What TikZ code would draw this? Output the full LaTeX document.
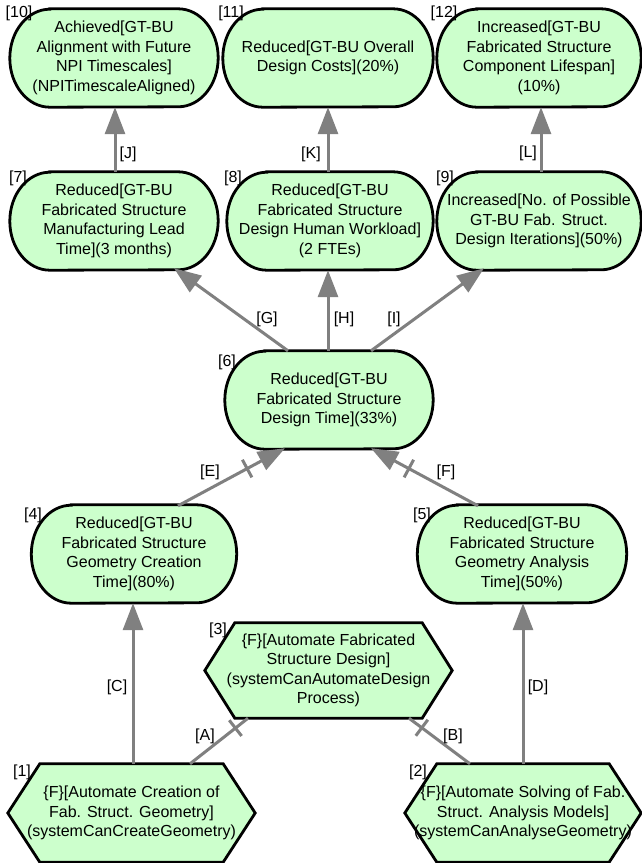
\documentclass[tikz,border=0pt]{standalone}
\usepackage{fontspec}
\setmainfont{Liberation Sans}
\usetikzlibrary{arrows.meta,calc,backgrounds}
\definecolor{nodefill}{RGB}{204,255,204}
\definecolor{edgegray}{RGB}{128,128,128}
\begin{document}
\begin{tikzpicture}[x=1pt,y=-1pt,
  txt/.style={font=\fontsize{16}{19.5}\selectfont},
  goal/.style={txt, minimum width=208pt, minimum height=98pt, inner sep=0pt, align=center},
  hextext/.style={txt, inner sep=0pt, align=center, minimum width=247pt, minimum height=98pt},
  border/.style={draw=black, line width=2.8pt, fill=nodefill, line join=miter},
  idx/.style={txt, inner sep=0pt},
  edge/.style={draw=edgegray, line width=3pt},
  arr/.style={edge, -{Triangle[length=27pt,width=20pt]}}]
\useasboundingbox (0,0) rectangle (642,863);

% goal nodes
\node[goal] (n10) at (114,58) {Achieved[GT-BU\\Alignment with Future\\NPI Timescales]\\(NPITimescaleAligned)};
\node[goal, minimum width=210pt] (n11) at (328,58) {Reduced[GT-BU Overall\\Design Costs](20\%)};
\node[goal, minimum width=204pt] (n12) at (539,58) {Increased[GT-BU\\Fabricated Structure\\Component Lifespan]\\(10\%)};
\node[goal] (n7) at (114,221) {Reduced[GT-BU\\Fabricated Structure\\Manufacturing Lead\\Time](3 months)};
\node[goal, minimum width=206pt] (n8) at (330,221) {Reduced[GT-BU\\Fabricated Structure\\Design Human Workload]\\(2 FTEs)};
\node[goal, minimum width=204pt] (n9) at (539,221) {Increased[No. of Possible\\GT-BU Fab. Struct.\\Design Iterations](50\%)};
\node[goal] (n6) at (329,400) {Reduced[GT-BU\\Fabricated Structure\\Design Time](33\%)};
\node[goal, minimum width=205pt] (n4) at (134,554) {Reduced[GT-BU\\Fabricated Structure\\Geometry Creation\\Time](80\%)};
\node[goal, minimum width=209pt] (n5) at (522,554) {Reduced[GT-BU\\Fabricated Structure\\Geometry Analysis\\Time](50\%)};

% function (hexagon) nodes
\node[hextext, minimum height=95pt] (n3) at (328.5,670.5) {\{F\}[Automate Fabricated\\Structure Design]\\(systemCanAutomateDesign\\Process)};
\node[hextext] (n1) at (131.5,813) {\{F\}[Automate Creation of\\Fab. Struct. Geometry]\\(systemCanCreateGeometry)};
\node[hextext, minimum width=236pt] (n2) at (523,813) {\{F\}[Automate Solving of Fab.\\Struct. Analysis Models]\\(systemCanAnalyseGeometry)};

\begin{scope}[on background layer]
\fill[white] (0,0) rectangle (642,863);
\foreach \g in {n10,n11,n12,n7,n8,n9,n6,n4,n5}{
  \draw[border] ($(\g.north west)+(40,0)$) -- ($(\g.north east)+(-40,0)$)
    arc[start angle=90, end angle=-90, x radius=40pt, y radius=49pt]
    -- ($(\g.south west)+(40,0)$)
    arc[start angle=-90, end angle=-270, x radius=40pt, y radius=49pt] -- cycle;
}
\foreach \h/\d in {n1/32,n2/32,n3/30}{
  \draw[border] (\h.west) -- ($(\h.north west)+(\d,0)$) -- ($(\h.north east)+(-\d,0)$)
    -- (\h.east) -- ($(\h.south east)+(-\d,0)$) -- ($(\h.south west)+(\d,0)$) -- cycle;
}
\end{scope}

% index labels
\node[idx] (l10) at (19,13) {[10]};
\node[idx] (l11) at (231,13) {[11]};
\node[idx] (l12) at (444,13) {[12]};
\node[idx] (l7) at (18,178) {[7]};
\node[idx] (l8) at (233,178) {[8]};
\node[idx] (l9) at (445,178) {[9]};
\node[idx] (l6) at (227,362) {[6]};
\node[idx] (l4) at (33,515) {[4]};
\node[idx] (l5) at (422,515) {[5]};
\node[idx] (l3) at (218,630) {[3]};
\node[idx] (l1) at (22,772) {[1]};
\node[idx] (l2) at (418,772) {[2]};

% edge end points
\coordinate (j1) at ($(n7.north)+(1,0)$);   \coordinate (j2) at ($(n10.south)+(1,0)$);
\coordinate (k1) at ($(n8.north)+(-2,0)$);  \coordinate (k2) at (n11.south);
\coordinate (q1) at ($(n9.north)+(2,0)$);   \coordinate (q2) at ($(n12.south)+(2,0)$);
\coordinate (g1) at ($(n6.north)+(-41,0)$); \coordinate (g2) at ($(n7.south)+(60,-2)$);
\coordinate (h1) at ($(n6.north)+(-1,0)$);  \coordinate (h2) at ($(n8.south)+(-2,0)$);
\coordinate (i1) at ($(n6.north)+(42,0)$);  \coordinate (i2) at ($(n9.south)+(-55,-2)$);
\coordinate (e1) at ($(n4.north)+(44,1)$);  \coordinate (e2) at ($(n6.south)+(-44,-1)$);
\coordinate (f1) at ($(n5.north)+(-44,1)$); \coordinate (f2) at ($(n6.south)+(42,-1)$);
\coordinate (c1) at ($(n1.north)+(1.5,0)$); \coordinate (c2) at ($(n4.south)+(-1,0)$);
\coordinate (d1) at (n2.north);             \coordinate (d2) at ($(n5.south)+(1,0)$);
\coordinate (a1) at ($(n1.north)+(58.5,0)$);\coordinate (a2) at ($(n3.south)+(-80.5,0)$);
\coordinate (b1) at ($(n2.north)+(-53,0)$); \coordinate (b2) at ($(n3.south)+(80.5,0)$);

% connectors
\draw[arr] (j1) -- (j2);
\draw[arr] (k1) -- (k2);
\draw[arr] (q1) -- (q2);
\draw[arr] (g1) -- (g2);
\draw[arr] (h1) -- (h2);
\draw[arr] (i1) -- (i2);
\draw[arr] (e1) -- (e2);
\draw[arr] (f1) -- (f2);
\draw[arr] (c1) -- (c2);
\draw[arr] (d1) -- (d2);
\draw[edge] (a1) -- (a2);
\draw[edge] (b1) -- (b2);

% ticks
\coordinate (te) at ($(e2)!43pt!(e1)$);
\coordinate (tf) at ($(f2)!43pt!(f1)$);
\coordinate (ta) at ($(a2)!16pt!(a1)$);
\coordinate (tb) at ($(b2)!16pt!(b1)$);
\draw[edge] ($(te)!10pt!90:(e2)$) -- ($(te)!10pt!-90:(e2)$);
\draw[edge] ($(tf)!10pt!90:(f2)$) -- ($(tf)!10pt!-90:(f2)$);
\draw[edge] ($(ta)!10pt!90:(a2)$) -- ($(ta)!10pt!-90:(a2)$);
\draw[edge] ($(tb)!10pt!90:(b2)$) -- ($(tb)!10pt!-90:(b2)$);

% edge labels
\node[idx] (lJ) at (128,154) {[J]};
\node[idx] (lK) at (311,154) {[K]};
\node[idx] (lL) at (528,153) {[L]};
\node[idx] (lG) at (267,319) {[G]};
\node[idx] (lH) at (344,319) {[H]};
\node[idx] (lI) at (394,319) {[I]};
\node[idx] (lE) at (210,472) {[E]};
\node[idx] (lF) at (446,472) {[F]};
\node[idx] (lC) at (117,687) {[C]};
\node[idx] (lD) at (538,687) {[D]};
\node[idx] (lA) at (205,736) {[A]};
\node[idx] (lB) at (453,736) {[B]};
\end{tikzpicture}
\end{document}
